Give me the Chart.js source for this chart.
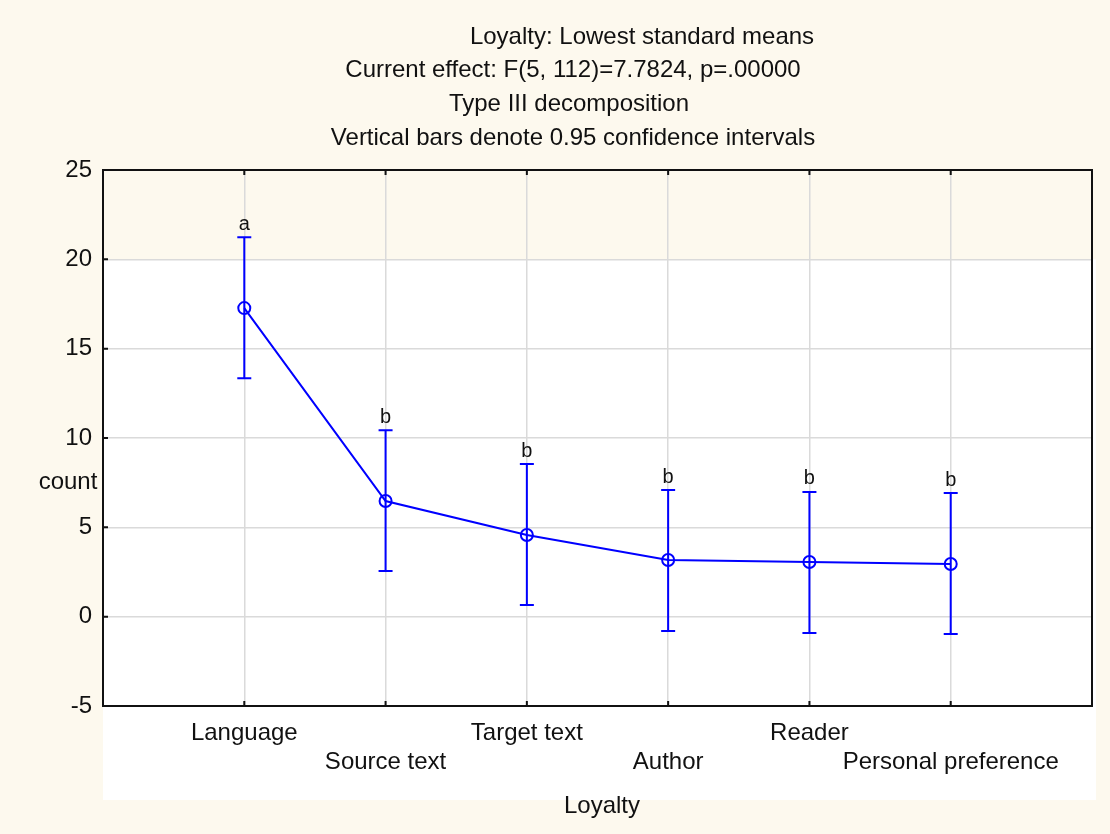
<!DOCTYPE html>
<html>
<head>
<meta charset="utf-8">
<script src="https://cdn.jsdelivr.net/npm/chart.js@4"></script>
<style>
  body { margin: 0; background: #fdf9ee; }
  #wrap { width: 1110px; height: 834px; }
</style>
</head>
<body>
<div id="wrap"><canvas id="loyaltyChart" width="1110" height="834"></canvas></div>
<script>
// Chart data
const categories = ["Language", "Source text", "Target text", "Author", "Reader", "Personal preference"];
const means = [17.27, 6.47, 4.57, 3.17, 3.06, 2.95];
const upperCI = [21.24, 10.44, 8.54, 7.09, 6.98, 6.92];
const lowerCI = [13.35, 2.55, 0.65, -0.8, -0.92, -0.97];
const groupLetters = ["a", "b", "b", "b", "b", "b"];
const titleLines = [
  "Loyalty: Lowest standard means",
  "Current effect: F(5, 112)=7.7824, p=.00000",
  "Type III decomposition",
  "Vertical bars denote 0.95 confidence intervals"
];

const FONT = "'Liberation Sans', Arial, sans-serif";
const BLUE = "#0000ff";

// Backgrounds, error bars, titles and the horizontal y label
const decorPlugin = {
  id: "decor",
  beforeDraw: function (chart) {
    const ctx = chart.ctx;
    const area = chart.chartArea;
    const y = chart.scales.y;
    ctx.save();
    ctx.fillStyle = "#fdf9ee";
    ctx.fillRect(0, 0, chart.width, chart.height);
    ctx.fillStyle = "#ffffff";
    const top = y.getPixelForValue(20);
    ctx.fillRect(area.left, top, area.right - area.left + 4, 800 - top);
    ctx.restore();
  },
  afterDatasetsDraw: function (chart) {
    const ctx = chart.ctx;
    const x = chart.scales.x;
    const y = chart.scales.y;
    ctx.save();
    ctx.strokeStyle = BLUE;
    ctx.lineWidth = 2;
    for (let i = 0; i < means.length; i++) {
      const px = x.getPixelForValue(i + 1);
      const pTop = y.getPixelForValue(upperCI[i]);
      const pBot = y.getPixelForValue(lowerCI[i]);
      ctx.beginPath();
      ctx.moveTo(px, pTop);
      ctx.lineTo(px, pBot);
      ctx.moveTo(px - 7, pTop);
      ctx.lineTo(px + 7, pTop);
      ctx.moveTo(px - 7, pBot);
      ctx.lineTo(px + 7, pBot);
      ctx.stroke();

      ctx.fillStyle = "#111";
      ctx.font = "20px " + FONT;
      ctx.textAlign = "center";
      ctx.textBaseline = "bottom";
      ctx.fillText(groupLetters[i], px, pTop - 3);
    }
    ctx.restore();
  },
  afterDraw: function (chart) {
    const ctx = chart.ctx;
    const area = chart.chartArea;
    const x = chart.scales.x;
    const y = chart.scales.y;
    ctx.save();
    // frame
    ctx.strokeStyle = "#111";
    ctx.lineWidth = 2;
    ctx.strokeRect(area.left, area.top, area.right - area.left, area.bottom - area.top);

    // small inward tick marks
    ctx.beginPath();
    y.ticks.forEach(function (t) {
      const py = y.getPixelForValue(t.value);
      ctx.moveTo(area.left, py);
      ctx.lineTo(area.left + 5, py);
    });
    for (let i = 1; i <= categories.length; i++) {
      const px = x.getPixelForValue(i);
      ctx.moveTo(px, area.bottom);
      ctx.lineTo(px, area.bottom - 5);
      ctx.moveTo(px, area.top);
      ctx.lineTo(px, area.top + 5);
    }
    ctx.stroke();

    // title lines
    ctx.fillStyle = "#111";
    ctx.font = "24px " + FONT;
    ctx.textAlign = "center";
    ctx.textBaseline = "middle";
    const centers = [642, 573, 569, 573];
    for (let i = 0; i < titleLines.length; i++) {
      ctx.fillText(titleLines[i], centers[i], 37 + i * 33.7);
    }

    // axis titles
    ctx.fillText("count", 68, 482);
    ctx.fillText("Loyalty", 602, 806);
    ctx.restore();
  }
};

const ctx = document.getElementById("loyaltyChart").getContext("2d");
const loyaltyChart = new Chart(ctx, {
  type: "line",
  data: {
    datasets: [
      {
        label: "Loyalty",
        data: means.map(function (v, i) { return { x: i + 1, y: v }; }),
        borderColor: BLUE,
        borderWidth: 2,
        backgroundColor: "rgba(0,0,0,0)",
        pointStyle: "circle",
        pointRadius: 6,
        pointBorderWidth: 2,
        pointBorderColor: BLUE,
        pointBackgroundColor: "rgba(0,0,0,0)",
        tension: 0,
        fill: false,
      },
    ],
  },
  options: {
    responsive: false,
    animation: false,
    layout: { padding: { left: 0, top: 170, right: 18, bottom: 0 } },
    plugins: {
      legend: { display: false },
      tooltip: { enabled: false },
    },
    scales: {
      x: {
        type: "linear",
        min: 0,
        max: 7,
        afterFit: function (scale) { scale.height = 128; },
        afterBuildTicks: function (scale) {
          scale.ticks = [0, 1, 2, 3, 4, 5, 6, 7].map(function (v) { return { value: v }; });
        },
        grid: {
          color: function (c) {
            return c.tick && (c.tick.value === 0 || c.tick.value === 7) ? "rgba(0,0,0,0)" : "#dadada";
          },
          lineWidth: 1.5,
          drawTicks: false,
        },
        border: { color: "#111", width: 2 },
        ticks: {
          padding: 13,
          color: "#111",
          font: { family: FONT, size: 24, lineHeight: 1.2 },
          maxRotation: 0,
          autoSkip: false,
          callback: function (value) {
            const name = categories[value - 1];
            if (!name) return "";
            return (value % 2 === 1) ? [name, ""] : ["", name];
          },
        },
      },
      y: {
        min: -5,
        max: 25,
        afterFit: function (scale) { scale.width = 103; },
        grid: { color: "#dadada", lineWidth: 1.5, drawTicks: false },
        border: { color: "#111", width: 2 },
        ticks: {
          stepSize: 5,
          padding: 11,
          color: "#111",
          font: { family: FONT, size: 24 },
        },
      },
    },
  },
  plugins: [decorPlugin],
});
</script>
</body>
</html>
